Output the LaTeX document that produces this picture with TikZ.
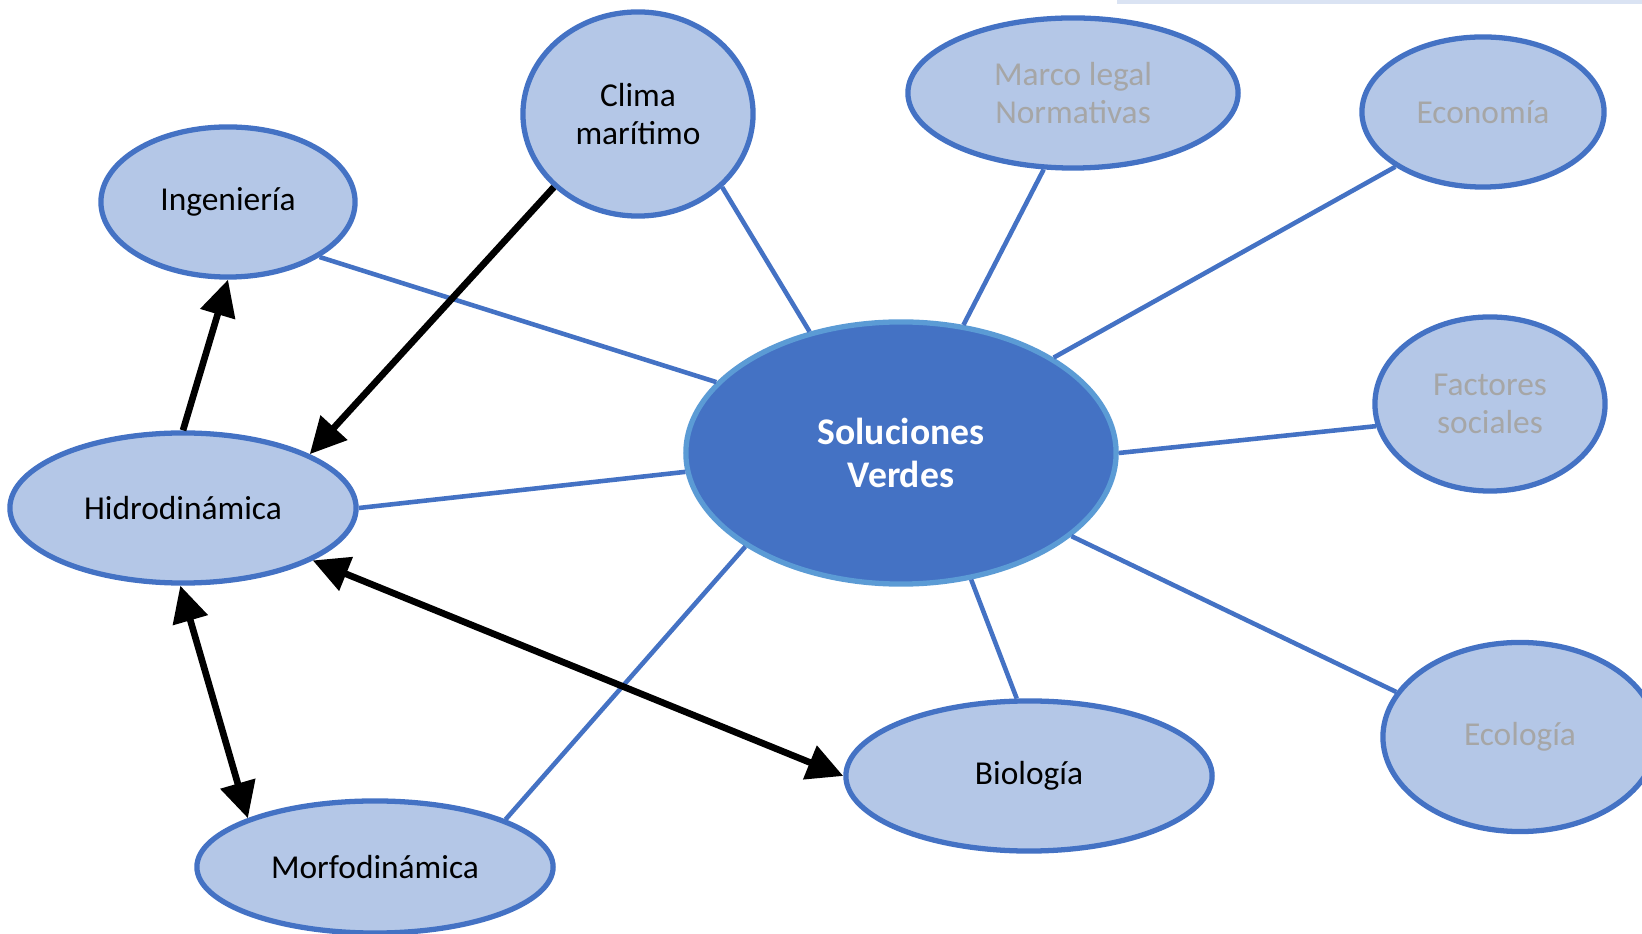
\documentclass[tikz,border=0pt]{standalone}
\usepackage{fontspec}
\setmainfont{Carlito}
\usetikzlibrary{shapes.geometric,arrows.meta}
\definecolor{boxfill}{HTML}{B4C7E7}
\definecolor{boxline}{HTML}{4472C4}
\definecolor{hubline}{HTML}{5B9BD5}
\definecolor{fadetext}{HTML}{A6A6A6}
\definecolor{rulecol}{HTML}{DAE3F3}
\begin{document}
\begin{tikzpicture}[x=0.01cm, y=-0.01cm,
		topic/.style={ellipse, fill=boxfill, draw=boxline, line width=1.5pt, inner sep=0pt, align=center, font=\fontsize{9.5}{10.7}\selectfont},
		faded/.style={topic, text=fadetext},
		hub/.style={ellipse, fill=boxline, draw=hubline, line width=1.5pt, inner sep=0pt, align=center, text=white, font=\fontsize{10.7}{12.2}\selectfont\bfseries},
		link/.style={draw=boxline, line width=1.3pt},
		flow/.style={line width=1.9pt, >={Triangle[length=0.36cm,width=0.35cm]}}]
	\clip (0,0) rectangle (1642,934);
	\draw[rulecol, line width=1.5pt] (1117,1) -- (1642,1);

	\node[hub,   minimum width=4.30cm, minimum height=2.62cm](sv)    at (901,453){Soluciones\\Verdes};
	\node[topic, minimum width=2.30cm, minimum height=2.04cm](clima) at (638,114){Clima\\marítimo};
	\node[topic, minimum width=2.54cm, minimum height=1.50cm](ing)   at (228,202){Ingeniería};
	\node[faded, minimum width=3.30cm, minimum height=1.50cm](marco) at (1073,93){Marco legal\\Normativas};
	\node[faded, minimum width=2.42cm, minimum height=1.50cm](econ)  at (1483,112){Economía};
	\node[faded, minimum width=2.30cm, minimum height=1.74cm](fact)  at (1490,404){Factores\\sociales};
	\node[topic, minimum width=3.46cm, minimum height=1.50cm](hidro) at (183,508){Hidrodinámica};
	\node[topic, minimum width=3.66cm, minimum height=1.50cm](bio)   at (1029,776){Biología};
	\node[faded, minimum width=2.74cm, minimum height=1.89cm](eco)   at (1520,737){Ecología};
	\node[topic, minimum width=3.56cm, minimum height=1.32cm](morfo) at (375,867){Morfodinámica};

	% spokes from the hub
	\draw[link] (sv.159.4) -- (ing.-31.1);
	\draw[link] (sv.127.2) -- (clima.-41.3);
	\draw[link] (sv.64.5)  -- (marco.-111.9);
	\draw[link] (sv.32.8)  -- (econ.-148.1);
	\draw[link] (sv.0)     -- (fact.-169.2);
	\draw[link] (sv.185.3) -- (hidro.0);
	\draw[link] (sv.-26.2) -- (eco.160.2);
	\draw[link] (sv.-61.1) -- (bio.99.1);
	\draw[link] (sv.211.2) -- (morfo.20.5);

	% interactions
	\draw[flow, ->]  (clima.-139.1) -- (hidro.23.9);
	\draw[flow, ->]  (hidro.90)     -- (ing.-90);
	\draw[flow, <->] (hidro.-92)    -- (morfo.159.1);
	\draw[flow, <->] (hidro.-22.8)  -- (bio.180);
\end{tikzpicture}
\end{document}
